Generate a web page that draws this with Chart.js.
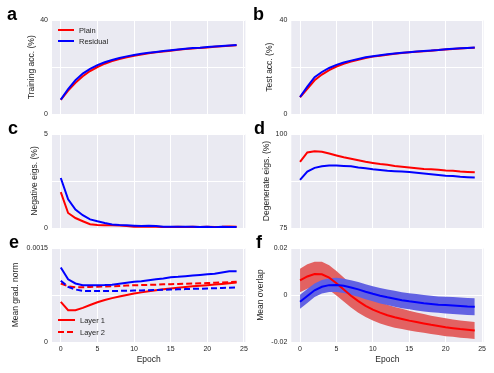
<!DOCTYPE html>
<html><head><meta charset="utf-8">
<script src="https://cdn.jsdelivr.net/npm/chart.js@4/dist/chart.umd.min.js"></script>
<style>
html,body{margin:0;padding:0;background:#fff;}
#wrap{position:relative;width:494px;height:373px;overflow:hidden;}
canvas{position:absolute;left:0;top:0;}
</style></head><body><div id="wrap">
<canvas id="pa" width="494" height="373"></canvas>
<canvas id="pb" width="494" height="373"></canvas>
<canvas id="pc" width="494" height="373"></canvas>
<canvas id="pd" width="494" height="373"></canvas>
<canvas id="pe" width="494" height="373"></canvas>
<canvas id="pf" width="494" height="373"></canvas>
</div>
<script>
// ---------- data ----------
const epochs = [0,1,2,3,4,5,6,7,8,9,10,11,12,13,14,15,16,17,18,19,20,21,22,23,24];
const xTicks = [0,5,10,15,20,25];
const seriesNames = ['Plain','Residual'];
const layerNames = ['Layer 1','Layer 2'];

const trainPlain    = [6.2,10.1,13.4,16.2,18.4,20.1,21.5,22.6,23.5,24.2,24.9,25.4,25.9,26.3,26.7,27.0,27.4,27.7,27.9,28.2,28.4,28.7,28.9,29.1,29.3];
const trainResidual = [6.3,10.8,14.5,17.3,19.3,20.9,22.1,23.1,23.9,24.6,25.2,25.7,26.1,26.5,26.9,27.2,27.5,27.8,28.1,28.3,28.6,28.8,29.0,29.2,29.4];

const testPlain    = [7.3,10.9,14.5,16.9,18.8,20.3,21.5,22.4,23.2,23.9,24.5,24.9,25.3,25.7,26.0,26.3,26.6,26.8,27.0,27.3,27.5,27.7,27.9,28.1,28.3];
const testResidual = [7.4,11.8,15.8,18.0,19.7,21.0,22.0,22.8,23.5,24.2,24.7,25.1,25.5,25.8,26.1,26.4,26.7,26.9,27.1,27.3,27.6,27.8,28.0,28.2,28.4];

const negPlain    = [1.91,0.80,0.53,0.36,0.20,0.16,0.15,0.15,0.13,0.10,0.07,0.06,0.06,0.07,0.05,0.05,0.06,0.05,0.06,0.05,0.07,0.05,0.06,0.08,0.06];
const negResidual = [2.66,1.53,0.98,0.68,0.46,0.36,0.27,0.19,0.16,0.14,0.12,0.10,0.12,0.11,0.07,0.06,0.07,0.07,0.06,0.05,0.06,0.04,0.06,0.05,0.05];

const degPlain    = [92.6,95.1,95.4,95.3,94.8,94.3,93.8,93.4,93.0,92.6,92.3,92.0,91.8,91.5,91.3,91.1,90.9,90.7,90.6,90.5,90.3,90.2,90.0,89.9,89.8];
const degResidual = [87.8,90.0,91.0,91.4,91.6,91.6,91.5,91.4,91.1,90.9,90.6,90.4,90.2,90.1,90.0,89.9,89.7,89.5,89.3,89.1,88.9,88.8,88.6,88.5,88.4];

const gradPlainL1    = [0.00064,0.000507,0.000507,0.000544,0.00059,0.000635,0.00067,0.0007,0.000725,0.00075,0.000774,0.000792,0.000808,0.000824,0.00084,0.000854,0.000866,0.000877,0.000888,0.000898,0.000907,0.000917,0.000927,0.000938,0.00095];
const gradPlainL2    = [0.000934,0.00089,0.000875,0.000875,0.000878,0.000882,0.000886,0.00089,0.000895,0.0009,0.000905,0.000908,0.000912,0.000915,0.00092,0.000923,0.000926,0.00093,0.000933,0.000936,0.00094,0.000945,0.00095,0.000955,0.00096];
const gradResidualL1 = [0.00119,0.001,0.000934,0.000907,0.000905,0.000905,0.000908,0.000915,0.00093,0.000945,0.00096,0.00097,0.000985,0.001,0.001015,0.001035,0.00104,0.00105,0.00106,0.00107,0.00108,0.00109,0.00111,0.00113,0.00113];
const gradResidualL2 = [0.000976,0.00088,0.000838,0.000816,0.000812,0.000812,0.000814,0.000814,0.000816,0.000818,0.00082,0.000822,0.000826,0.00083,0.000834,0.000838,0.00084,0.000844,0.000848,0.00085,0.000854,0.000858,0.000862,0.000866,0.00087];

const overlapPlain      = [0.0062,0.0079,0.0089,0.0088,0.0074,0.0050,0.0023,-0.0003,-0.0026,-0.0046,-0.0062,-0.0075,-0.0086,-0.0095,-0.0102,-0.0109,-0.0115,-0.0121,-0.0127,-0.0132,-0.0137,-0.0141,-0.0145,-0.0148,-0.0151];
const overlapPlainSd    = [0.0050,0.0052,0.0053,0.0053,0.0053,0.0052,0.0051,0.0050,0.0049,0.0048,0.0047,0.0046,0.0045,0.0044,0.0043,0.0042,0.0041,0.0040,0.0039,0.0038,0.0038,0.0037,0.0037,0.0036,0.0036];
const overlapResidual   = [-0.0029,-0.0004,0.0020,0.0035,0.0042,0.0043,0.0039,0.0032,0.0024,0.0014,0.0005,-0.0003,-0.0010,-0.0016,-0.0022,-0.0027,-0.0031,-0.0035,-0.0038,-0.0041,-0.0043,-0.0045,-0.0047,-0.0049,-0.0050];
const overlapResidualSd = [0.0030,0.0030,0.0029,0.0029,0.0029,0.0030,0.0030,0.0031,0.0031,0.0032,0.0032,0.0033,0.0033,0.0034,0.0034,0.0034,0.0035,0.0035,0.0035,0.0035,0.0036,0.0036,0.0036,0.0036,0.0036];

// ---------- styling ----------
const FONT = '"Liberation Sans", Arial, sans-serif';
const TXT = '#262626';
const RED = '#ff0000', BLUE = '#0000ff';
const RED_BAND = '#e26262', BLUE_BAND = '#6262e2';
const W = 494, H = 373;
const TITLE_SIZE = 8.5, TICK_SIZE = 7;

const pts = arr => arr.map((v, i) => ({x: epochs[i], y: v}));
const line = (arr, color, dash) => ({data: pts(arr), borderColor: color, borderWidth: 2, borderDash: dash || [], fill: false, pointRadius: 0});

const deco = {
  id: 'deco',
  beforeDraw(chart) {
    const {ctx, chartArea: a} = chart;
    ctx.save();
    ctx.fillStyle = '#EAEAF2';
    ctx.fillRect(a.left, a.top, a.right - a.left, a.bottom - a.top);
    ctx.restore();
  },
  afterDraw(chart, args, o) {
    const ctx = chart.ctx;
    ctx.save();
    ctx.font = 'bold 18px ' + FONT;
    ctx.fillStyle = '#000';
    ctx.textBaseline = 'alphabetic';
    ctx.fillText(o.letter, o.lx, o.ly);
    if (o.legend) {
      ctx.font = '7.5px ' + FONT;
      ctx.textBaseline = 'middle';
      o.legend.forEach(it => {
        ctx.beginPath();
        ctx.strokeStyle = it.color;
        ctx.lineWidth = 2;
        ctx.setLineDash(it.dash || []);
        ctx.moveTo(it.x0, it.y); ctx.lineTo(it.x1, it.y);
        ctx.stroke();
        ctx.setLineDash([]);
        ctx.fillStyle = TXT;
        ctx.fillText(it.label, it.tx, it.y + 0.5);
      });
    }
    ctx.restore();
  }
};

function makePanel(id, c) {
  const lh = TITLE_SIZE * 1.2;
  const padLeft = c.titleX - lh / 2;
  return new Chart(document.getElementById(id), {
    type: 'line',
    data: {datasets: c.datasets},
    options: {
      responsive: false, animation: false, devicePixelRatio: 1,
      layout: {padding: {left: padLeft, right: W - c.right, top: c.top, bottom: 0}},
      plugins: {
        legend: {display: false}, tooltip: {enabled: false},
        filler: {drawTime: 'beforeDatasetsDraw'},
        deco: {letter: c.letter, lx: c.lx, ly: c.ly, legend: c.legend}
      },
      scales: {
        x: {
          type: 'linear', min: -1.2, max: 25.2,
          afterBuildTicks: s => { s.ticks = xTicks.map(v => ({value: v})); },
          afterFit: s => { s.height = H - c.bottom; s.paddingLeft = 0; s.paddingRight = 0; },
          grid: {color: '#ffffff', lineWidth: 1, drawTicks: false},
          border: {display: false},
          ticks: {display: !!c.showX, padding: 3, maxRotation: 0, autoSkip: false, color: TXT, font: {family: FONT, size: TICK_SIZE}},
          title: {display: !!c.showX, text: 'Epoch', color: TXT, padding: {top: 0, bottom: 8}, font: {family: FONT, size: TITLE_SIZE}}
        },
        y: {
          type: 'linear', min: c.yTicks[0], max: c.yTicks[c.yTicks.length - 1],
          afterBuildTicks: s => { s.ticks = c.yTicks.map(v => ({value: v})); },
          afterFit: s => { s.width = c.left - padLeft; s.paddingTop = 0; s.paddingBottom = 0; },
          grid: {color: '#ffffff', lineWidth: 1, drawTicks: false},
          border: {display: false},
          ticks: {padding: 4, color: TXT, font: {family: FONT, size: TICK_SIZE},
                  callback: (v, i) => c.yLabels[i]},
          title: {display: true, text: c.yTitle, color: TXT, padding: 0, font: {family: FONT, size: TITLE_SIZE}}
        }
      }
    },
    plugins: [deco]
  });
}

const COL1 = {left: 52, right: 245.4}, COL2 = {left: 291.3, right: 483.5};
const ROW1 = {top: 20, bottom: 114.5}, ROW2 = {top: 134, bottom: 228}, ROW3 = {top: 248, bottom: 342};

makePanel('pa', Object.assign({}, COL1, ROW1, {
  titleX: 32, yTitle: 'Training acc. (%)', yTicks: [0, 20, 40], yLabels: ['0', '', '40'],
  letter: 'a', lx: 7, ly: 20,
  datasets: [line(trainResidual, BLUE), line(trainPlain, RED)],
  legend: [
    {label: seriesNames[0], color: RED, x0: 58, x1: 74, tx: 79, y: 30},
    {label: seriesNames[1], color: BLUE, x0: 58, x1: 74, tx: 79, y: 41}
  ]
}));

makePanel('pb', Object.assign({}, COL2, ROW1, {
  titleX: 270, yTitle: 'Test acc. (%)', yTicks: [0, 20, 40], yLabels: ['0', '', '40'],
  letter: 'b', lx: 253, ly: 20,
  datasets: [line(testResidual, BLUE), line(testPlain, RED)]
}));

makePanel('pc', Object.assign({}, COL1, ROW2, {
  titleX: 35, yTitle: 'Negative eigs. (%)', yTicks: [0, 2.5, 5], yLabels: ['0', '', '5'],
  letter: 'c', lx: 8, ly: 134,
  datasets: [line(negResidual, BLUE), line(negPlain, RED)]
}));

makePanel('pd', Object.assign({}, COL2, ROW2, {
  titleX: 267, yTitle: 'Degenerate eigs. (%)', yTicks: [75, 87.5, 100], yLabels: ['75', '', '100'],
  letter: 'd', lx: 254, ly: 134,
  datasets: [line(degResidual, BLUE), line(degPlain, RED)]
}));

makePanel('pe', Object.assign({}, COL1, ROW3, {
  titleX: 16, yTitle: 'Mean grad. norm', yTicks: [0, 0.00075, 0.0015], yLabels: ['0', '', '0.0015'],
  letter: 'e', lx: 9, ly: 248, showX: true,
  datasets: [line(gradResidualL1, BLUE), line(gradResidualL2, BLUE, [6, 3]),
             line(gradPlainL1, RED), line(gradPlainL2, RED, [6, 3])],
  legend: [
    {label: layerNames[0], color: RED, x0: 58, x1: 75, tx: 80, y: 320},
    {label: layerNames[1], color: RED, dash: [6, 3], x0: 58, x1: 75, tx: 80, y: 332}
  ]
}));

const band = (mean, sd, sign, color, fill) => ({
  data: pts(mean.map((m, i) => m + sign * sd[i])),
  borderColor: 'rgba(0,0,0,0)', borderWidth: 0, pointRadius: 0,
  backgroundColor: color, fill: fill
});

makePanel('pf', Object.assign({}, COL2, ROW3, {
  titleX: 261, yTitle: 'Mean overlap', yTicks: [-0.02, 0, 0.02], yLabels: ['-0.02', '0', '0.02'],
  letter: 'f', lx: 256, ly: 248, showX: true,
  datasets: [
    line(overlapResidual, BLUE),
    line(overlapPlain, RED),
    band(overlapResidual, overlapResidualSd, 1, BLUE_BAND, '+1'),
    band(overlapResidual, overlapResidualSd, -1, BLUE_BAND, false),
    band(overlapPlain, overlapPlainSd, 1, RED_BAND, '+1'),
    band(overlapPlain, overlapPlainSd, -1, RED_BAND, false)
  ]
}));
</script>
</body></html>
